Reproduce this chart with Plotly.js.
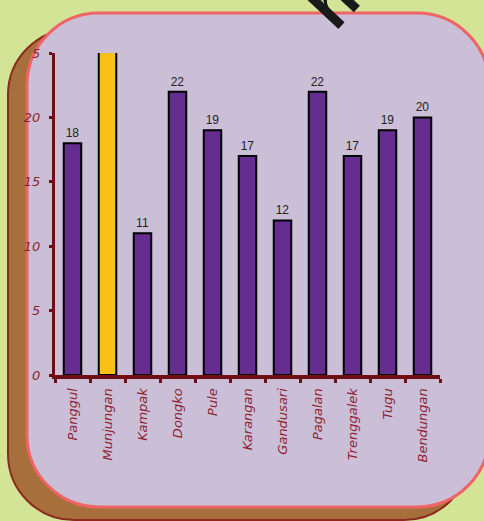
<!DOCTYPE html>
<html><head><meta charset="utf-8">
<script src="https://cdn.plot.ly/plotly-3.0.1.min.js"></script>
<style>html,body{margin:0;padding:0;background:#d3e497;}#chart{width:484px;height:521px;}</style>
</head><body><div id="chart"></div>
<script>
// ---- data ----
const categories = ['Panggul','Munjungan','Kampak','Dongko','Pule','Karangan','Gandusari','Pagalan','Trenggalek','Tugu','Bendungan'];
const values = [18, 28, 11, 22, 19, 17, 12, 22, 17, 19, 20];
const highlighted = 'Munjungan';
const yTickVals = [0, 5, 10, 15, 20, 25];
const yMax = 25;

// ---- geometry helpers (page pixels -> paper fractions) ----
const W = 484, H = 521, ML = 55, MR = 44, MT = 53, MB = 146;
const PW = W - ML - MR, PH = H - MT - MB;
const X = px => ((px - ML) / PW).toFixed(5);
const Y = py => ((H - MB - py) / PH).toFixed(5);
function rr(x0, y0, x1, y1, r) {
  const k = 0.5523 * r;
  return `M${X(x0+r)},${Y(y0)} L${X(x1-r)},${Y(y0)} ` +
    `C${X(x1-r+k)},${Y(y0)} ${X(x1)},${Y(y0+r-k)} ${X(x1)},${Y(y0+r)} ` +
    `L${X(x1)},${Y(y1-r)} C${X(x1)},${Y(y1-r+k)} ${X(x1-r+k)},${Y(y1)} ${X(x1-r)},${Y(y1)} ` +
    `L${X(x0+r)},${Y(y1)} C${X(x0+r-k)},${Y(y1)} ${X(x0)},${Y(y1-r+k)} ${X(x0)},${Y(y1-r)} ` +
    `L${X(x0)},${Y(y0+r)} C${X(x0)},${Y(y0+r-k)} ${X(x0+r-k)},${Y(y0)} ${X(x0+r)},${Y(y0)} Z`;
}

const PURPLE = '#662d91', YELLOW = '#fbbf17', AXIS = '#6e0f16', LABEL = '#8e1f30';
const barColors = categories.map(c => c === highlighted ? YELLOW : PURPLE);
const barText = values.map(v => v > yMax ? '' : String(v));
const yTickText = yTickVals.map(v => v === yMax
  ? String(v).slice(0, -1).replace(/./g, d => `<span style="color:rgba(0,0,0,0)">${d}</span>`) + String(v).slice(-1)
  : String(v));

const trace = {
  type: 'bar',
  x: categories,
  y: values,
  width: 0.5,
  marker: { color: barColors, line: { color: '#000000', width: 2 } },
  text: barText,
  textposition: 'outside',
  textfont: { family: 'Liberation Sans, Arial, sans-serif', size: 12, color: '#222222' },
  cliponaxis: true,
  hoverinfo: 'none'
};

const layout = {
  width: W, height: H,
  margin: { l: ML, r: MR, t: MT, b: MB, pad: 0 },
  paper_bgcolor: '#d3e497',
  plot_bgcolor: 'rgba(0,0,0,0)',
  showlegend: false,
  xaxis: {
    type: 'category',
    tickangle: -90,
    tickson: 'boundaries',
    ticks: 'outside', ticklen: 4, tickwidth: 3, tickcolor: AXIS,
    showline: true, linecolor: AXIS, linewidth: 4,
    showgrid: false, zeroline: false,
    ticklabelstandoff: 4,
    tickfont: { family: 'DejaVu Sans, sans-serif', size: 13, color: LABEL, style: 'italic' }
  },
  yaxis: {
    range: [0, yMax],
    tickmode: 'array', tickvals: yTickVals, ticktext: yTickText,
    ticks: 'outside', ticklen: 3, tickwidth: 3, tickcolor: AXIS,
    showline: true, linecolor: AXIS, linewidth: 3,
    showgrid: false, zeroline: false,
    ticklabelstandoff: 6,
    tickfont: { family: 'DejaVu Sans, sans-serif', size: 13, color: LABEL, style: 'italic' }
  },
  shapes: [
    { type: 'path', xref: 'paper', yref: 'paper', layer: 'below',
      path: rr(8, 29, 470, 520, 66), fillcolor: '#a66f3c', line: { color: '#8c2b1d', width: 2 } },
    { type: 'path', xref: 'paper', yref: 'paper', layer: 'below',
      path: rr(27, 13, 489, 507, 72), fillcolor: '#cbbfd8', line: { color: '#ef6464', width: 3 } }
  ],
  annotations: [
    { xref: 'paper', yref: 'paper', x: X(332), y: Y(2), xanchor: 'center', yanchor: 'middle',
      text: '<b>h</b>', showarrow: false, textangle: -47,
      font: { family: 'Liberation Sans, Arial, sans-serif', size: 66, color: '#1a1a1a' } }
  ]
};

Plotly.newPlot('chart', [trace], layout, { displayModeBar: false, staticPlot: true });
</script>
</body></html>
